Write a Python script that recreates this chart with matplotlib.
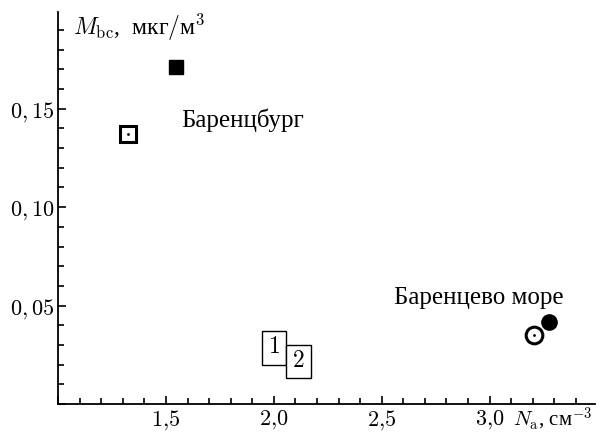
import matplotlib
matplotlib.use("Agg")
import matplotlib.pyplot as plt
from matplotlib.ticker import MultipleLocator, FuncFormatter

plt.rcParams["font.family"] = ["Liberation Serif", "DejaVu Serif"]
plt.rcParams["mathtext.fontset"] = "cm"

# Barentsburg: open square (1), filled square (2)
burg_x = [1.324, 1.546]
burg_y = [0.137, 0.171]
# Barents Sea: open circle (1), filled circle (2)
sea_x = [3.208, 3.278]
sea_y = [0.0353, 0.0419]
# legend boxes
key_labels = ["1", "2"]
key_x = [2.0, 2.115]
key_y = [0.0285, 0.0215]

fig = plt.figure(figsize=(6.0, 4.34), dpi=100)
ax = fig.add_axes([0.097, 0.069, 0.895, 0.903])

ax.plot(burg_x[0], burg_y[0], marker="s", ms=11, mfc="white", mec="black", mew=2.2, ls="none")
ax.plot(burg_x[0], burg_y[0], marker=".", ms=2, color="black", ls="none")
ax.plot(burg_x[1], burg_y[1], marker="s", ms=10, color="black", ls="none")

ax.plot(sea_x[0], sea_y[0], marker="o", ms=12, mfc="white", mec="black", mew=2.2, ls="none")
ax.plot(sea_x[0], sea_y[0], marker=".", ms=2, color="black", ls="none")
ax.plot(sea_x[1], sea_y[1], marker="o", ms=11, color="black", ls="none")

for lab, x, y in zip(key_labels, key_x, key_y):
    ax.text(x, y, "$" + lab + "$", ha="center", va="center", fontsize=17,
            bbox=dict(boxstyle="square,pad=0.26", fc="white", ec="black", lw=1.0))

ax.text(1.57, 0.144, "Баренцбург", fontsize=18, ha="left", va="center")
ax.text(2.95, 0.054, "Баренцево море", fontsize=18, ha="center", va="center")

ax.set_xlim(1.0, 3.49)
ax.set_ylim(0, 0.199)
ax.spines["top"].set_visible(False)
ax.spines["right"].set_visible(False)
for s in ("left", "bottom"):
    ax.spines[s].set_linewidth(1.3)

ax.xaxis.set_major_locator(MultipleLocator(0.5))
ax.xaxis.set_minor_locator(MultipleLocator(0.1))
ax.yaxis.set_major_locator(MultipleLocator(0.05))
ax.yaxis.set_minor_locator(MultipleLocator(0.01))


def xfmt(v, pos):
    if v < 1.2 or v > 3.2:
        return ""
    return "$" + f"{v:.1f}".replace(".", "{,}") + "$"


def yfmt(v, pos):
    if v < 0.01 or v > 0.17:
        return ""
    return "$" + f"{v:.2f}".replace(".", ",") + "$"


ax.xaxis.set_major_formatter(FuncFormatter(xfmt))
ax.yaxis.set_major_formatter(FuncFormatter(yfmt))
ax.tick_params(which="both", direction="in", width=1.2, labelsize=16)
ax.tick_params(axis="x", which="major", length=6, pad=3)
ax.tick_params(axis="y", which="major", length=6, pad=3)
ax.tick_params(which="minor", length=4)

ax.text(0.027, 0.96, r"$M_{\rm bc}$,  мкг$/$м$^3$", transform=ax.transAxes,
        fontsize=17, ha="left", va="center")
fig.text(0.855, 0.034, r"$N_{\rm a}$, см$^{-3}$", fontsize=15, ha="left", va="center")

fig.savefig("out.png", dpi=100)
